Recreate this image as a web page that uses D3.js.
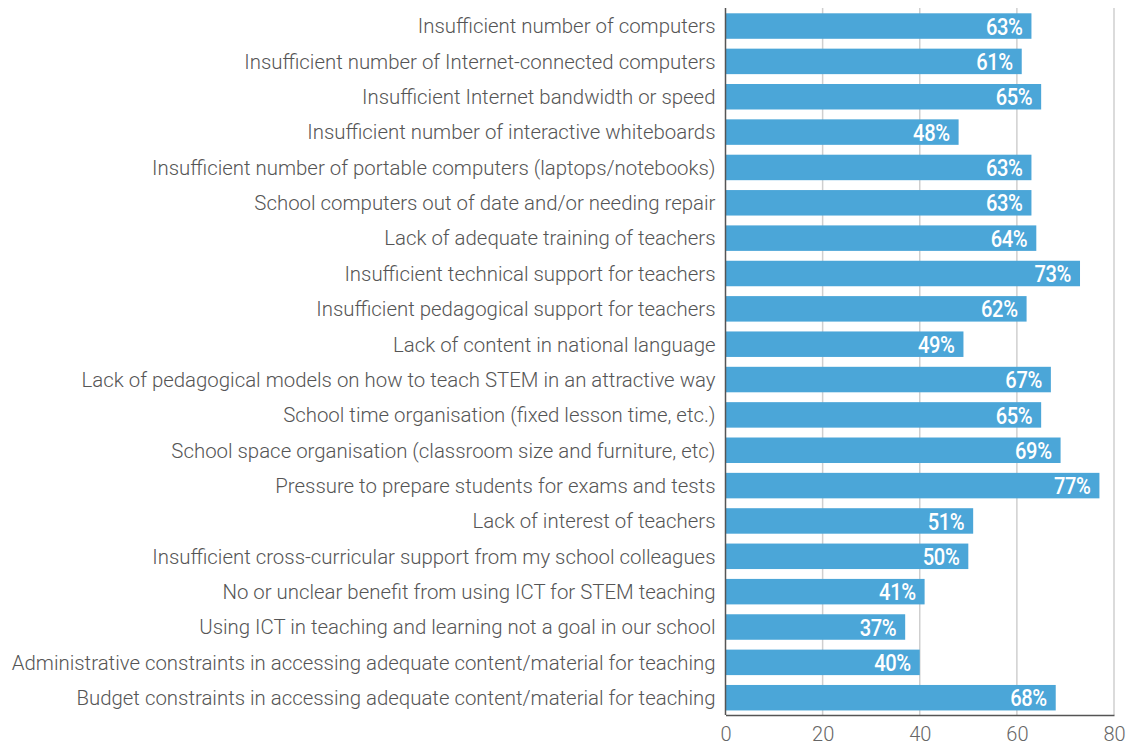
<!DOCTYPE html>
<html>
<head>
<meta charset="utf-8">
<script src="https://cdn.jsdelivr.net/npm/d3@7"></script>
<style>
  body { margin: 0; background: #fff; }
  svg text { font-family: Roboto, "Liberation Sans", sans-serif; }
</style>
</head>
<body>
<div id="chart"></div>
<script>
// ── Data ──────────────────────────────────────────────────────────────────────
const categories = [
  "Insufficient number of computers",
  "Insufficient number of Internet-connected computers",
  "Insufficient Internet bandwidth or speed",
  "Insufficient number of interactive whiteboards",
  "Insufficient number of portable computers (laptops/notebooks)",
  "School computers out of date and/or needing repair",
  "Lack of adequate training of teachers",
  "Insufficient technical support for teachers",
  "Insufficient pedagogical support for teachers",
  "Lack of content in national language",
  "Lack of pedagogical models on how to teach STEM in an attractive way",
  "School time organisation (fixed lesson time, etc.)",
  "School space organisation (classroom size and furniture, etc)",
  "Pressure to prepare students for exams and tests",
  "Lack of interest of teachers",
  "Insufficient cross-curricular support from my school colleagues",
  "No or unclear benefit from using ICT for STEM teaching",
  "Using ICT in teaching and learning not a goal in our school",
  "Administrative constraints in accessing adequate content/material for teaching",
  "Budget constraints in accessing adequate content/material for teaching"
];
const values = [63, 61, 65, 48, 63, 63, 64, 73, 62, 49, 67, 65, 69, 77, 51, 50, 41, 37, 40, 68];
const xTicks = [0, 20, 40, 60, 80];

// ── Layout ────────────────────────────────────────────────────────────────────
const W = 1129, H = 747;
const x0 = 725.5, x1 = 1114;
const yTop = 8, yBottom = 715;
const BAR = "#4ba6d8";

const svg = d3.select("#chart").append("svg")
  .attr("width", W).attr("height", H);

const x = d3.scaleLinear().domain([0, 80]).range([x0, x1]);
const y = d3.scaleBand().domain(categories)
  .range([8.35, 715.4]).paddingInner(0.279).paddingOuter(0.14);

// grid
svg.append("g").selectAll("line")
  .data(xTicks.slice(1))
  .join("line")
  .attr("x1", d => x(d)).attr("x2", d => x(d))
  .attr("y1", yTop).attr("y2", yBottom)
  .attr("stroke", "#cfcfcf").attr("stroke-width", 1.5);

// bars
svg.append("g").selectAll("rect")
  .data(values)
  .join("rect")
  .attr("x", x(0))
  .attr("y", (d, i) => y(categories[i]))
  .attr("width", d => x(d) - x(0))
  .attr("height", y.bandwidth())
  .attr("fill", BAR);

// value labels (condensed look via horizontal scale)
svg.append("g").selectAll("text")
  .data(values)
  .join("text")
  .attr("transform", (d, i) =>
    `translate(${x(d) - 9},${y(categories[i]) + y.bandwidth() / 2}) scale(0.84,1)`)
  .attr("dy", "0.36em")
  .attr("text-anchor", "end")
  .attr("fill", "#fff")
  .style("font-size", "24px")
  .style("font-weight", 500)
  .style("letter-spacing", "-0.5px")
  .text(d => d + "%");

// category labels
svg.append("g").selectAll("text")
  .data(categories)
  .join("text")
  .attr("x", x0 - 10)
  .attr("y", d => y(d) + y.bandwidth() / 2)
  .attr("dy", "0.36em")
  .attr("text-anchor", "end")
  .attr("fill", "#555")
  .style("font-size", "20.4px")
  .style("font-weight", 300)
  .text(d => d);

// axes lines
svg.append("line")
  .attr("x1", x0).attr("x2", x0).attr("y1", yTop).attr("y2", yBottom)
  .attr("stroke", "#555").attr("stroke-width", 1.5);

const xAxis = svg.append("g")
  .attr("transform", `translate(0,${yBottom})`)
  .call(d3.axisBottom(x).tickValues(xTicks).tickSize(0).tickPadding(12));
xAxis.select(".domain").attr("stroke", "#555").attr("stroke-width", 1.5);
xAxis.selectAll("text")
  .attr("fill", "#666")
  .style("font-size", "20px")
  .style("font-weight", 300)
  .style("font-family", "Roboto, sans-serif");
</script>
</body>
</html>
